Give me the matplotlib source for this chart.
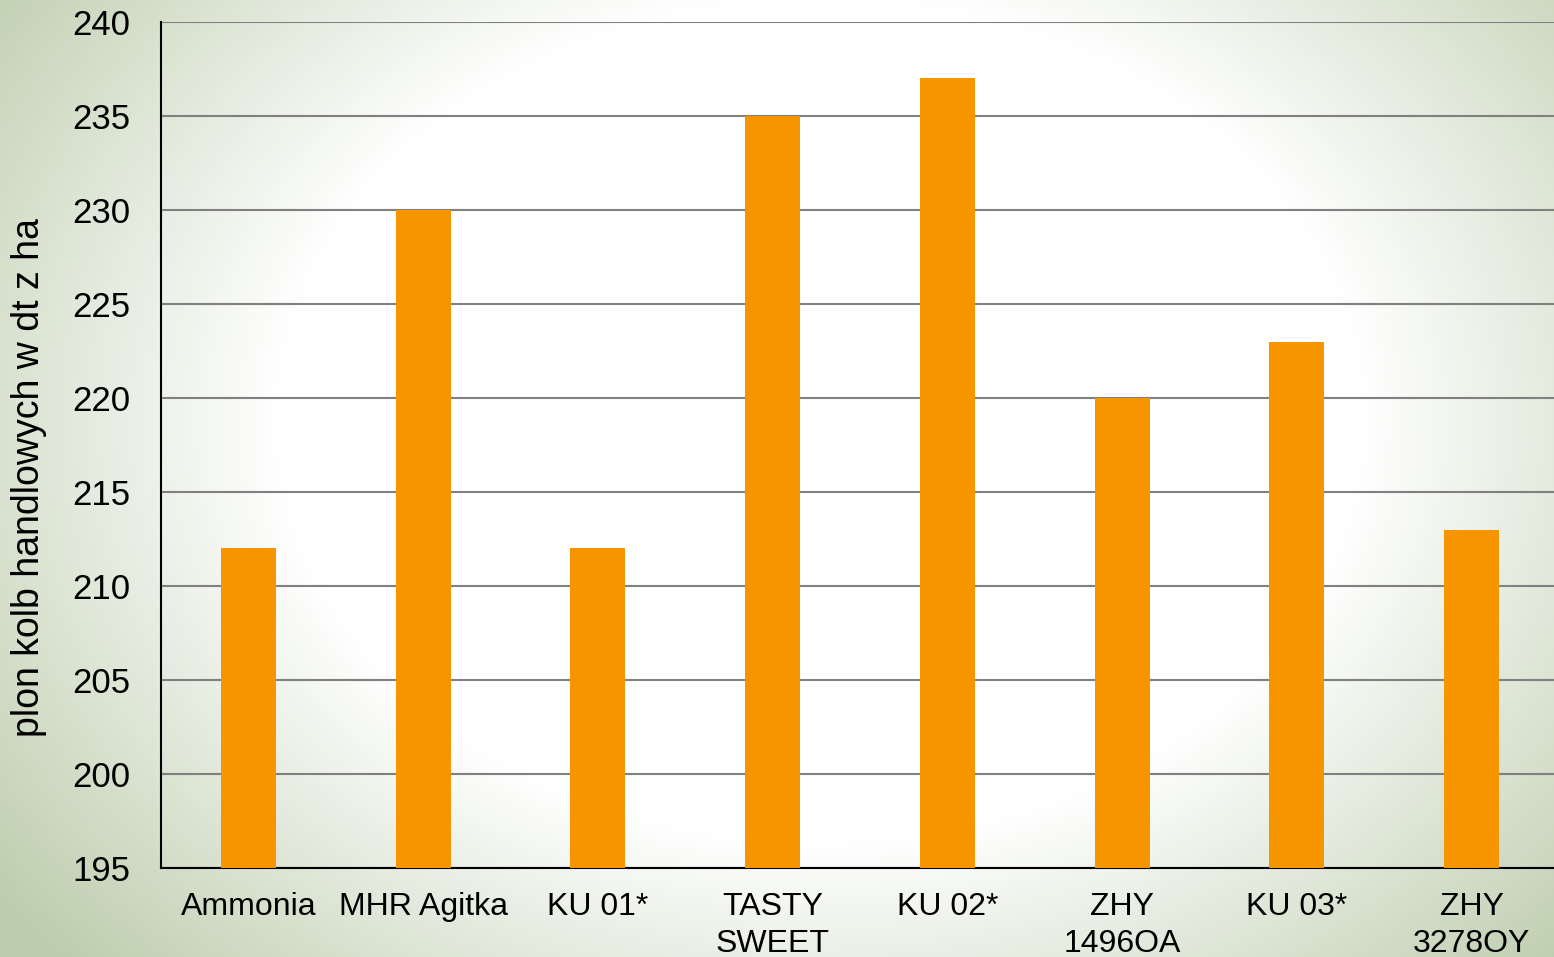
import numpy as np
import matplotlib.pyplot as plt

plt.rcParams['font.family'] = ['Liberation Sans', 'DejaVu Sans']

categories = ["Ammonia", "MHR Agitka", "KU 01*", "TASTY\nSWEET", "KU 02*",
              "ZHY\n1496OA", "KU 03*", "ZHY\n3278OY"]
yields = [212, 230, 212, 235, 237, 220, 223, 213]
yTicks = [195, 200, 205, 210, 215, 220, 225, 230, 235, 240]

fig = plt.figure(figsize=(15.54, 9.57), dpi=100)

# radial background, white in the middle, pale green towards corners
bg = fig.add_axes([0, 0, 1, 1], zorder=-10)
h, w = 957, 1554
yy, xx = np.mgrid[0:h, 0:w]
d = np.sqrt(((xx - 820) / 900.0) ** 2 + ((yy - 420) / 700.0) ** 2)
t = np.clip((d - 0.6) / 0.55, 0, 1)[..., None]
white = np.array([1.0, 1.0, 1.0])
green = np.array([188, 204, 172]) / 255.0
img = white * (1 - t) + green * t
bg.imshow(img, aspect='auto', extent=[0, 1, 0, 1], origin='upper')
bg.axis('off')

ax = fig.add_axes([161 / 1554, 1 - 868 / 957, 1398 / 1554, 846 / 957])
ax.patch.set_alpha(0)
x = np.arange(len(categories))
ax.bar(x, yields, width=0.315, color='#F79500', zorder=3)
ax.set_xlim(-0.5, len(categories) - 0.5)
ax.set_ylim(195, 240)
ax.set_yticks(yTicks)
ax.set_xticks(x)
ax.set_xticklabels(categories, fontsize=23, linespacing=1.3)
ax.tick_params(axis='y', length=0, pad=22, labelsize=25)
ax.tick_params(axis='x', length=0, pad=17)
ax.yaxis.grid(True, color='#808080', linewidth=1.5, zorder=0)
ax.set_axisbelow(True)
for s in ['top', 'right']:
    ax.spines[s].set_visible(False)
ax.spines['left'].set_linewidth(1.5)
ax.spines['bottom'].set_linewidth(1.5)
ax.set_ylabel("plon kolb handlowych w dt z ha", fontsize=27)
ax.yaxis.set_label_coords(-0.0815, 0.462)

fig.savefig("out.png", dpi=100)
